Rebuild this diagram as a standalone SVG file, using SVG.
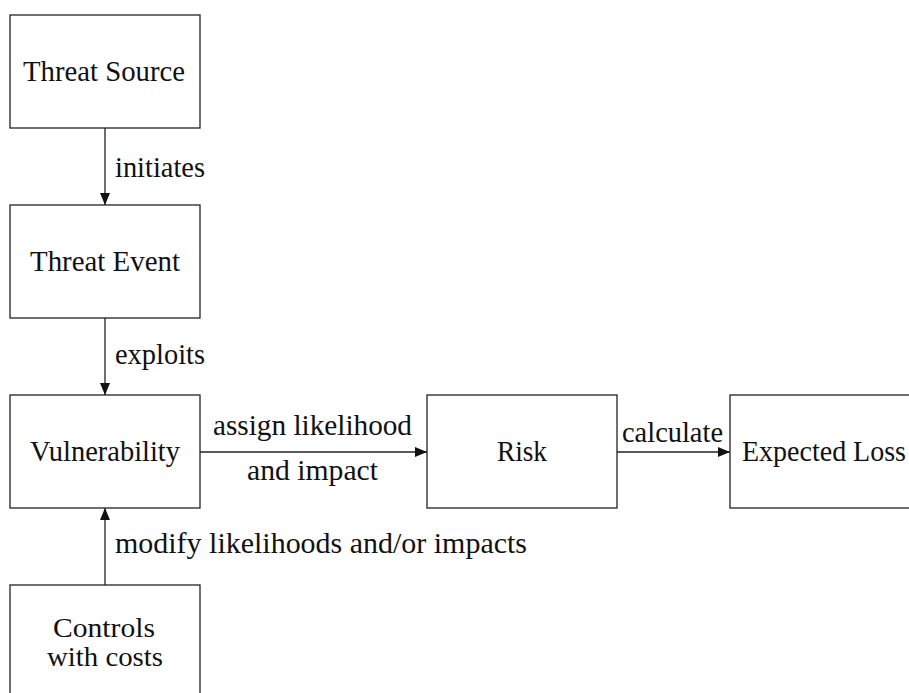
<svg xmlns="http://www.w3.org/2000/svg" width="909" height="693" viewBox="0 0 909 693">
<style>
.box{fill:#fff;stroke:#222;stroke-width:1.3}
.t{font-family:"Liberation Serif","Times New Roman",serif;font-size:29px;fill:#111}
.s{font-size:27px}
.edge{stroke:#222;stroke-width:1.3;fill:none}
</style>
<defs>
<marker id="ah" viewBox="0 0 12 10" refX="12" refY="5" markerWidth="12" markerHeight="10" markerUnits="userSpaceOnUse" orient="auto">
<path d="M0,0 L12,5 L0,10 z" fill="#111"/>
</marker>
</defs>
<rect width="909" height="693" fill="#fff"/>
<g id="connectors">
<line class="edge" x1="105" y1="128" x2="105" y2="205" marker-end="url(#ah)"/>
<line class="edge" x1="105" y1="318" x2="105" y2="395" marker-end="url(#ah)"/>
<line class="edge" x1="200" y1="452" x2="427" y2="452" marker-end="url(#ah)"/>
<line class="edge" x1="617" y1="452" x2="730" y2="452" marker-end="url(#ah)"/>
<line class="edge" x1="105" y1="585" x2="105" y2="508" marker-end="url(#ah)"/>
<text class="t" x="115" y="177" textLength="90" lengthAdjust="spacingAndGlyphs">initiates</text>
<text class="t" x="115" y="364" textLength="90" lengthAdjust="spacingAndGlyphs">exploits</text>
<text class="t" x="213" y="435" textLength="199" lengthAdjust="spacingAndGlyphs">assign likelihood</text>
<text class="t" x="247" y="480" textLength="131" lengthAdjust="spacingAndGlyphs">and impact</text>
<text class="t" x="622" y="442" textLength="101" lengthAdjust="spacingAndGlyphs">calculate</text>
<text class="t" x="115" y="553" textLength="412" lengthAdjust="spacingAndGlyphs">modify likelihoods and/or impacts</text>
</g>
<g id="threat-source">
<rect class="box" x="10" y="15" width="190" height="113"/>
<text class="t" x="23" y="81" textLength="162" lengthAdjust="spacingAndGlyphs">Threat Source</text>
</g>
<g id="threat-event">
<rect class="box" x="10" y="205" width="190" height="113"/>
<text class="t" x="30" y="271" textLength="150" lengthAdjust="spacingAndGlyphs">Threat Event</text>
</g>
<g id="vulnerability">
<rect class="box" x="10" y="395" width="190" height="113"/>
<text class="t" x="30" y="461" textLength="150" lengthAdjust="spacingAndGlyphs">Vulnerability</text>
</g>
<g id="risk">
<rect class="box" x="427" y="395" width="190" height="113"/>
<text class="t" x="497" y="461" textLength="50" lengthAdjust="spacingAndGlyphs">Risk</text>
</g>
<g id="expected-loss">
<rect class="box" x="730" y="395" width="190" height="113"/>
<text class="t" x="742" y="461" textLength="164" lengthAdjust="spacingAndGlyphs">Expected Loss</text>
</g>
<g id="controls">
<rect class="box" x="10" y="585" width="190" height="113"/>
<text class="t s" x="53" y="637" textLength="102" lengthAdjust="spacingAndGlyphs">Controls</text>
<text class="t s" x="47" y="666" textLength="116" lengthAdjust="spacingAndGlyphs">with costs</text>
</g>
</svg>
